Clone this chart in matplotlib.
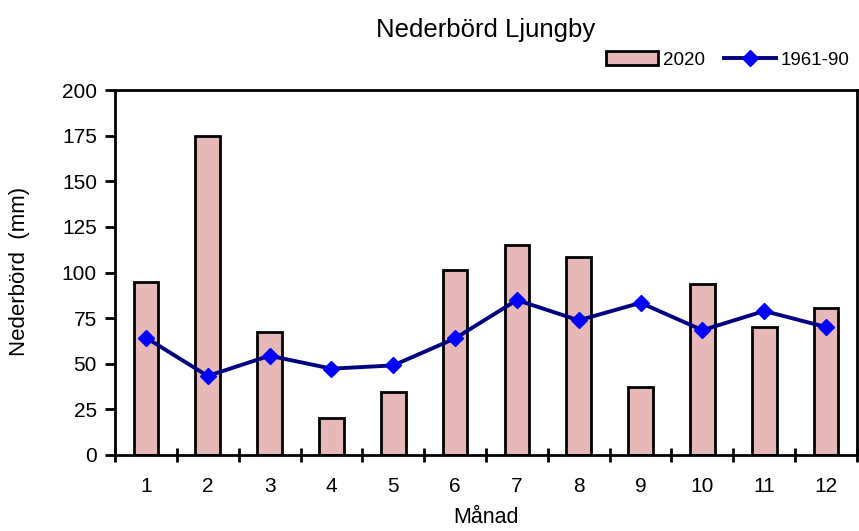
import matplotlib
matplotlib.use("Agg")
import matplotlib.pyplot as plt
from matplotlib.ticker import FixedLocator, NullFormatter
import numpy as np

plt.rcParams['font.family'] = ['Liberation Sans', 'DejaVu Sans']

months = ["1", "2", "3", "4", "5", "6", "7", "8", "9", "10", "11", "12"]
rain_2020 = [94.8, 174.9, 67.6, 20.5, 34.3, 101.6, 114.8, 108.5, 37.0, 93.6, 70.1, 80.4]
normal_1961_90 = [64.3, 43.3, 54.4, 47.3, 49.1, 63.9, 84.9, 73.8, 83.4, 68.4, 78.9, 70.1]
yticks = [0, 25, 50, 75, 100, 125, 150, 175, 200]

fig = plt.figure(figsize=(8.59, 5.31), dpi=100)
ax = fig.add_axes([115/859, 1-455/531, (857-115)/859, (455-90)/531])

x = np.arange(len(months))
bars = ax.bar(x, rain_2020, width=0.4, color='#E6B9B8', edgecolor='black', linewidth=2, label='2020', zorder=2)
line, = ax.plot(x, normal_1961_90, color='#000080', linewidth=2.8, marker='D', markersize=8.5,
                markerfacecolor='#0000FF', markeredgecolor='#0000FF', label='1961-90', zorder=3)

ax.set_xlim(-0.5, len(months)-0.5)
ax.set_ylim(0, 200)
ax.set_yticks(yticks)
ax.set_yticklabels([str(v) for v in yticks], fontsize=15)
ax.set_xticks(x)
ax.set_xticklabels(months, fontsize=15)
ax.tick_params(axis='x', which='major', length=0, pad=16)
ax.xaxis.set_minor_locator(FixedLocator(np.arange(-0.5, len(months), 1.0)))
ax.xaxis.set_minor_formatter(NullFormatter())
ax.tick_params(axis='x', which='minor', length=10, width=2, direction='inout')
ax.tick_params(axis='y', length=7, width=2, direction='out', pad=6)
for s in ax.spines.values():
    s.set_linewidth(2)

ax.set_xlabel('Månad', fontsize=15.5, labelpad=8)
fig.text(20/859, 1-271/531, 'Nederbörd  (mm)', rotation=90, ha='center', va='center', fontsize=16)
fig.text(486/859, 1-30/531, 'Nederbörd Ljungby', ha='center', va='center', fontsize=18.5)

fig.legend(handles=[bars, line], labels=['2020', '1961-90'], loc='center right',
           bbox_to_anchor=(1.0, 1-60/531), ncol=2, frameon=False, fontsize=13.5,
           handlelength=2.8, handletextpad=0.25, columnspacing=1.0, borderaxespad=0.1)

fig.savefig('out.png', dpi=100)
